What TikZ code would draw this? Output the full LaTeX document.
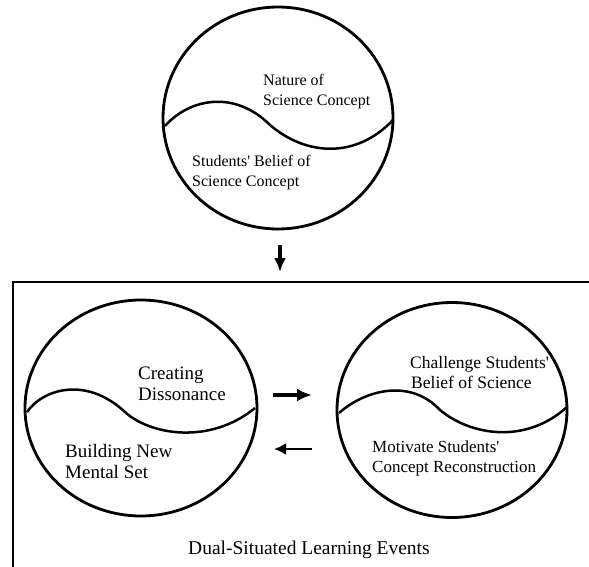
\documentclass[tikz,border=0pt]{standalone}
\usepackage{fontspec}
\setmainfont{Liberation Serif}
\usetikzlibrary{shapes.geometric,arrows.meta}
\begin{document}
\begin{tikzpicture}[x=1pt,y=-1pt,
  ring/.style={draw,ellipse,line width=2.8pt,inner sep=0pt},
  wave/.style={line width=2.5pt},
  lbl/.style={anchor=base west,inner sep=0pt,align=left},
  flow/.style={line width=3.4pt,-{Latex[length=14pt,width=12pt]}}]
\useasboundingbox (0,0) rectangle (589,567);

% concept circle at the top
\node[ring,minimum width=230,minimum height=222] (top) at (278,118) {};
\draw[wave] (165,126) .. controls (190,98) and (235,90) .. (270,125)
            .. controls (305,155) and (355,160) .. (393,120);
\node[lbl,font=\fontsize{16}{20}\selectfont] (nos1) at (263,86) {Nature of};
\node[lbl,font=\fontsize{16}{20}\selectfont] (nos2) at (263,106) {Science Concept};
\node[lbl,font=\fontsize{16}{20}\selectfont] (sb1) at (192,167) {Students\textquotesingle{} Belief of};
\node[lbl,font=\fontsize{16}{20}\selectfont] (sb2) at (192,186) {Science Concept};

% arrow into the learning-events frame
\coordinate (dn1) at (280,245);
\coordinate (dn2) at (280,272);
\draw[flow] (dn1) -- (dn2);

% open frame
\draw[line width=2.8pt] (592,282) -- (13,282) -- (13,570);

% left circle
\node[ring,minimum width=232,minimum height=216] (lc) at (141,408) {};
\draw[wave] (27,412) .. controls (42,390) and (85,375) .. (125,412)
            .. controls (150,435) and (210,445) .. (255,408);
\node[lbl,font=\fontsize{19}{22}\selectfont] (cd1) at (138,379) {Creating};
\node[lbl,font=\fontsize{19}{22}\selectfont] (cd2) at (138,400) {Dissonance};
\node[lbl,font=\fontsize{19}{22}\selectfont] (bn1) at (65,457) {Building New};
\node[lbl,font=\fontsize{19}{22}\selectfont] (bn2) at (65,478) {Mental Set};

% right circle
\node[ring,minimum width=230,minimum height=215] (rc) at (452,410) {};
\draw[wave] (339,413) .. controls (365,390) and (410,378) .. (440,410)
            .. controls (470,435) and (525,445) .. (567,407);
\node[lbl,font=\fontsize{17.5}{20}\selectfont] (ch1) at (410,368) {Challenge Students\textquotesingle};
\node[lbl,font=\fontsize{17.5}{20}\selectfont] (ch2) at (411,388) {Belief of Science};
\node[lbl,font=\fontsize{17}{20}\selectfont] (mo1) at (372,452) {Motivate Students\textquotesingle};
\node[lbl,font=\fontsize{17}{20}\selectfont] (mo2) at (372,472) {Concept Reconstruction};

% arrows between the two circles
\coordinate (ra1) at (273,395);
\coordinate (ra2) at (312,395);
\coordinate (la1) at (312,449);
\coordinate (la2) at (274,449);
\draw[flow,-{Latex[length=15pt,width=13pt]}] (ra1) -- (ra2);
\draw[flow,line width=2.6pt,-{Latex[length=12pt,width=12pt]}] (la1) -- (la2);

% frame caption
\node[lbl,font=\fontsize{19.5}{22}\selectfont] (cap) at (188,554) {Dual-Situated Learning Events};
\end{tikzpicture}
\end{document}
